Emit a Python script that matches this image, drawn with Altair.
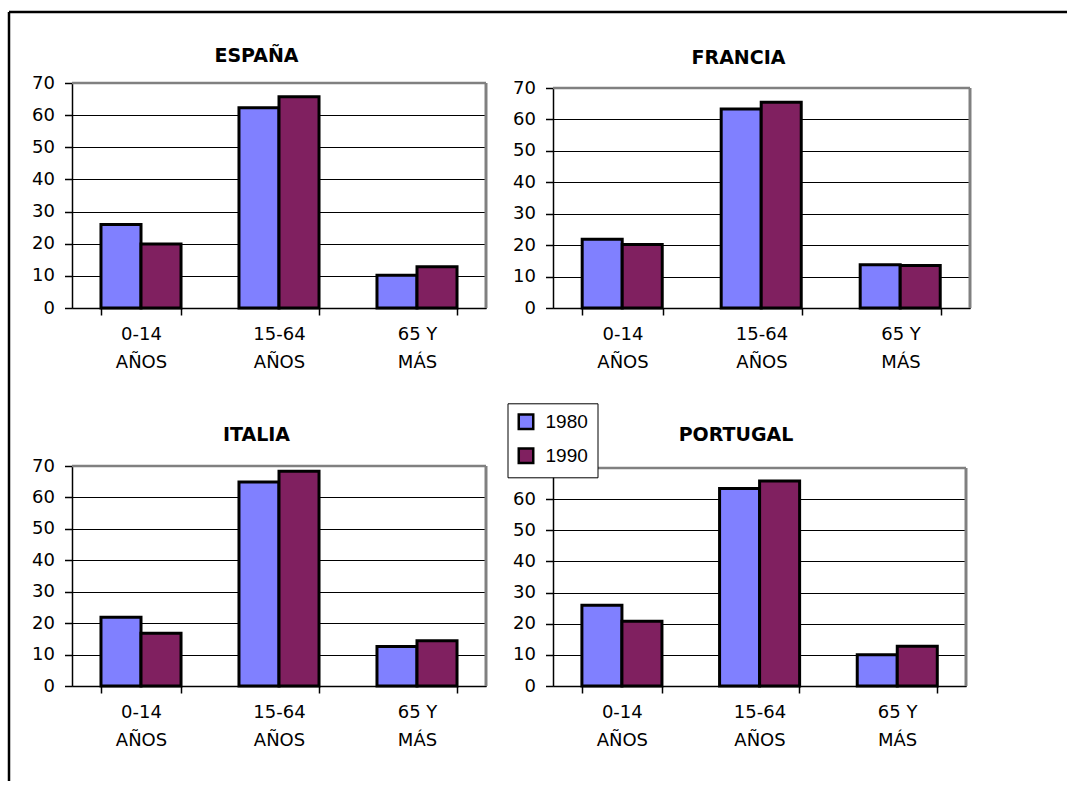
import altair as alt
import pandas as pd

# Age groups, census years and bar colours
categorias = ["0-14 AÑOS", "15-64 AÑOS", "65 Y MÁS"]
anios = ["1980", "1990"]
colores = ["#8080FF", "#802060"]

# Share of population (%) per age group
espana_1980 = [26.0, 62.3, 10.2]
espana_1990 = [19.9, 65.7, 12.8]
francia_1980 = [21.9, 63.3, 13.8]
francia_1990 = [20.2, 65.5, 13.5]
italia_1980 = [21.9, 64.9, 12.6]
italia_1990 = [16.8, 68.3, 14.4]
portugal_1980 = [25.9, 63.4, 10.0]
portugal_1990 = [20.8, 65.8, 12.8]

ticks_y = [0, 10, 20, 30, 40, 50, 60, 70]

FUENTE = "DejaVu Sans"


def tabla(v80, v90):
    filas = []
    for grupo, a, b in zip(categorias, v80, v90):
        filas.append({"grupo": grupo, "anio": anios[0], "pct": a})
        filas.append({"grupo": grupo, "anio": anios[1], "pct": b})
    return pd.DataFrame(filas)


# two-line category labels: split at the last space
etiqueta_x = (
    "[slice(datum.label, 0, lastindexof(datum.label, ' ')), "
    "slice(datum.label, lastindexof(datum.label, ' ') + 1)]"
)

eje_x = alt.Axis(
    title=None, grid=False, labelAngle=0, labelExpr=etiqueta_x,
    tickBand="extent", tickSize=7, tickWidth=1.5, tickColor="black",
    domainColor="black", domainWidth=1.5,
    labelFont=FUENTE, labelFontSize=18, labelColor="black",
    labelPadding=10, labelLineHeight=28,
)

eje_y = alt.Axis(
    title=None, values=ticks_y, tickCount=8, labelOverlap=False,
    grid=True, gridColor="black", gridWidth=1,
    tickSize=7.5, tickWidth=1.5, tickColor="black",
    domainColor="black", domainWidth=1.5,
    labelFont=FUENTE, labelFontSize=18, labelColor="black", labelPadding=10,
)


def panel(pais, v80, v90, ancho, alto, rango_y, dx, dy, leyenda=None, marco=False):
    datos = tabla(v80, v90)
    escala_x = alt.Scale(domain=categorias, paddingInner=0.42, paddingOuter=0.21)
    escala_y = alt.Scale(domain=[0, 70], range=rango_y, nice=False, zero=True)
    color = alt.Color(
        "anio:N",
        scale=alt.Scale(domain=anios, range=colores),
        legend=leyenda,
    )

    barras = alt.Chart(datos).mark_bar(stroke="black", strokeWidth=3).encode(
        x=alt.X("grupo:N", sort=categorias, scale=escala_x, axis=eje_x),
        xOffset=alt.XOffset("anio:N", sort=anios),
        y=alt.Y("pct:Q", scale=escala_y, axis=eje_y),
        color=color,
    )

    # grey plot frame: top edge at the axis maximum, right edge over the full range
    limites = alt.Chart(pd.DataFrame({"base": [0], "tope": [70]}))
    techo = limites.mark_rule(color="#808080", strokeWidth=2.5).encode(
        y=alt.Y("tope:Q", scale=escala_y, axis=eje_y),
        x=alt.value(0), x2=alt.value(ancho),
    )
    lateral = limites.mark_rule(color="#808080", strokeWidth=3).encode(
        x=alt.value(ancho),
        y=alt.Y("base:Q", scale=escala_y, axis=eje_y),
        y2="tope:Q",
    )

    titulo = alt.Chart(
        pd.DataFrame({"pais": [pais], "grupo": [categorias[1]], "tope": [70]})
    ).mark_text(
        font=FUENTE, fontSize=19, fontWeight="bold", color="black",
        align="center", baseline="alphabetic", dx=dx, dy=dy,
    ).encode(
        x=alt.X("grupo:N", sort=categorias, scale=escala_x, axis=eje_x),
        y=alt.Y("tope:Q", scale=escala_y, axis=eje_y),
        text="pais:N",
    )

    capas = [barras, techo, lateral, titulo]
    if marco:
        # page frame (top and left edges)
        unico = alt.Chart(pd.DataFrame({"k": [0]}))
        arriba = unico.mark_rule(color="black", strokeWidth=2.5).encode(
            x=alt.value(-63), x2=alt.value(995), y=alt.value(-71)
        )
        izquierda = unico.mark_rule(color="black", strokeWidth=2.5).encode(
            x=alt.value(-63), y=alt.value(-71), y2=alt.value(698)
        )
        capas += [arriba, izquierda]
    return alt.layer(*capas).properties(width=ancho, height=alto)


leyenda = alt.Legend(
    title=None, orient="none", legendX=-45.5, legendY=-62.7, direction="vertical",
    symbolType="square", symbolSize=210, symbolStrokeColor="black",
    symbolStrokeWidth=2.5, symbolOpacity=1,
    labelFont="Liberation Sans", labelFontSize=19, labelColor="black",
    labelOffset=10, rowPadding=9, padding=9,
    fillColor="white", strokeColor="black", zindex=1,
)

p1 = panel("ESPAÑA", espana_1980, espana_1990, 414, 225, [225, 0], -22.5, -21, marco=True)
p2 = panel("FRANCIA", francia_1980, francia_1990, 417, 225, [225, 5], -23, -24)
p3 = panel("ITALIA", italia_1980, italia_1990, 414, 220, [220, 0], -22.5, -25)
p4 = panel("PORTUGAL", portugal_1980, portugal_1990, 413, 220, [220, 2], -23.5, -27,
           leyenda=leyenda)

chart = (
    alt.concat(p1, p2, p3, p4, columns=2, spacing={"row": 158, "column": 67},
               bounds="flush")
    .resolve_scale(x="independent", y="independent", color="independent")
    .resolve_legend(color="independent")
    .properties(padding={"left": 7, "top": 10, "right": 0, "bottom": 0},
                background="white")
    .configure_view(stroke="transparent")
)

chart.save("out.html", embed_options={"renderer": "svg", "actions": False})
